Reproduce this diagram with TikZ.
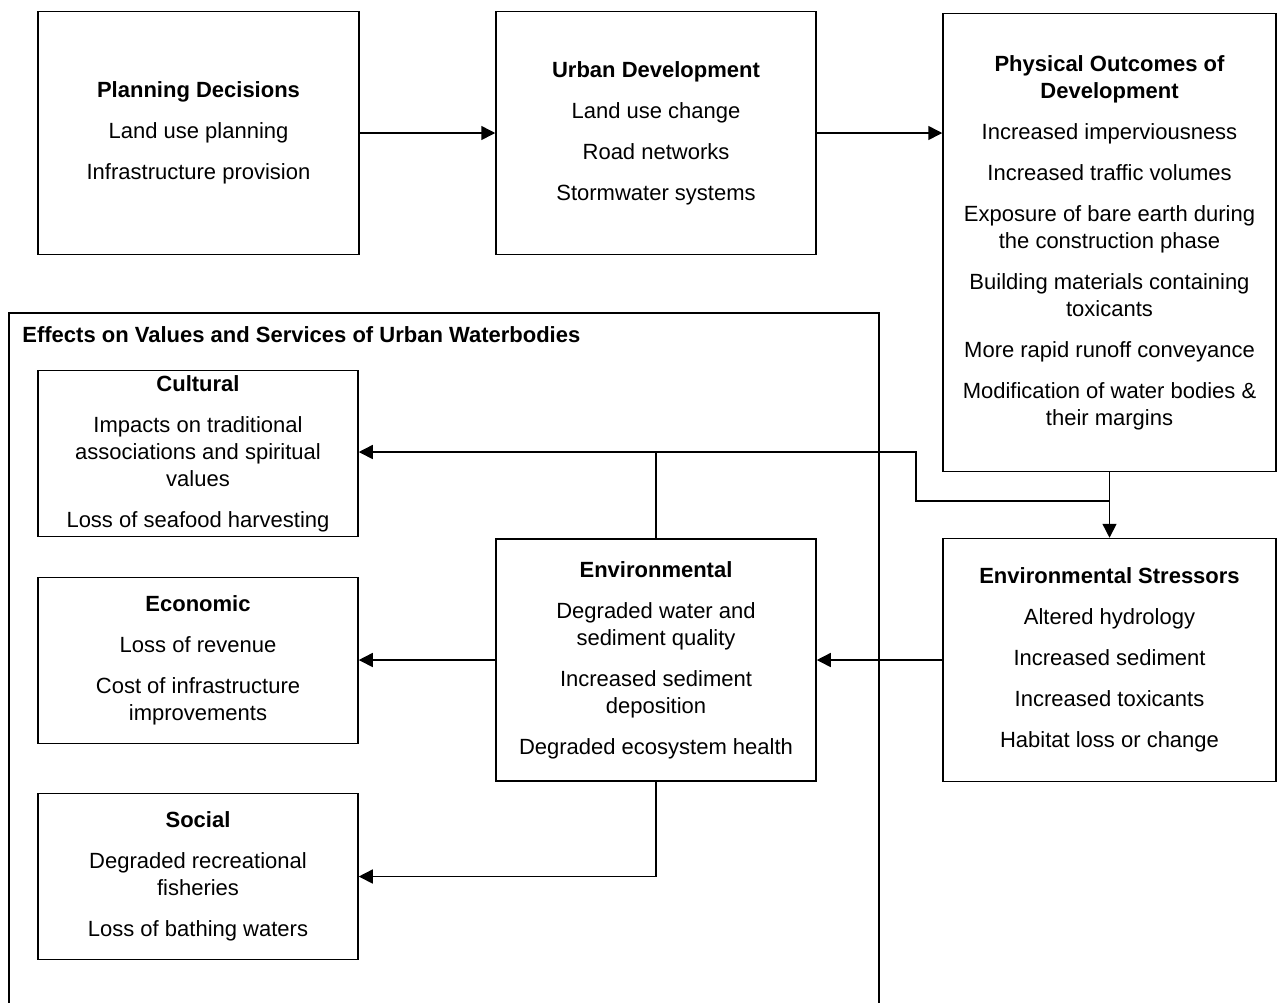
\documentclass[tikz,border=0pt]{standalone}
\usepackage{fontspec}
\setmainfont{Liberation Sans}
\usetikzlibrary{arrows.meta}
\def\gap{\\[7pt]}
\tikzset{
	box/.style={draw, line width=0.75pt, align=center, inner sep=0pt, font=\fontsize{11}{13.5}\selectfont},
	arr/.style={line width=0.75pt, -{Triangle[length=7pt,width=7pt]}},
	link/.style={line width=0.75pt}
}
\begin{document}
\begin{tikzpicture}[x=0.5pt,y=-0.5pt]
			%%%%% START %%%%%
			\clip (0,0) rectangle (1277,1002);
			
			% top row
			\node[box, minimum width=160.5pt, minimum height=121.5pt] (plan) at (198.5, 133) {\textbf{Planning Decisions}\gap Land use planning\gap Infrastructure provision};
			\node[box, minimum width=160pt, minimum height=121.5pt] (urban) at (656, 133) {\textbf{Urban Development}\gap Land use change\gap Road networks\gap Stormwater systems};
			\node[box, minimum width=166.5pt, minimum height=229pt] (phys) at (1109.5, 242.5) {\textbf{Physical Outcomes of}\\\textbf{Development}\gap Increased imperviousness\gap Increased traffic volumes\gap Exposure of bare earth during\\the construction phase\gap Building materials containing\\toxicants\gap More rapid runoff conveyance\gap Modification of water bodies \&\\their margins};
			
			% effects frame
			\draw[link] (9, 313) rectangle (879, 1010);
			\node[anchor=west, inner sep=0pt, font=\fontsize{11}{13.5}\selectfont\bfseries] (effects) at (22, 335) {Effects on Values and Services of Urban Waterbodies};
			
			\node[box, minimum width=160pt, minimum height=83pt] (cult) at (198, 453.5) {\textbf{Cultural}\gap Impacts on traditional\\associations and spiritual\\values\gap Loss of seafood harvesting};
			\node[box, minimum width=160pt, minimum height=83pt] (econ) at (198, 660.5) {\textbf{Economic}\gap Loss of revenue\gap Cost of infrastructure\\improvements};
			\node[box, minimum width=160pt, minimum height=83pt] (soc) at (198, 876.5) {\textbf{Social}\gap Degraded recreational\\fisheries\gap Loss of bathing waters};
			\node[box, minimum width=160pt, minimum height=121pt] (env) at (656, 660) {\textbf{Environmental}\gap Degraded water and\\sediment quality\gap Increased sediment\\deposition\gap Degraded ecosystem health};
			
			\node[box, minimum width=166.5pt, minimum height=121.5pt] (stress) at (1109.5, 660) {\textbf{Environmental Stressors}\gap Altered hydrology\gap Increased sediment\gap Increased toxicants\gap Habitat loss or change};
			
			% connectors
			\draw[arr] (plan) -- (urban);
			\draw[arr] (urban.east) -- (urban.east -| phys.west);
			\draw[arr] (phys.south) -- (stress.north);
			\coordinate (fork) at (1109.5, 501);
			\coordinate (bend) at (916, 452);
			\draw[arr] (fork) -| (bend) -- (bend -| cult.east);
			\draw[link] (env.north) -- (env.north |- bend);
			\draw[arr] (stress.west) -- (stress.west -| env.east);
			\draw[arr] (env.west) -- (env.west -| econ.east);
			\draw[arr] (env.south) |- (soc.east);
			
			%%%%% END %%%%%
\end{tikzpicture}
\end{document}
